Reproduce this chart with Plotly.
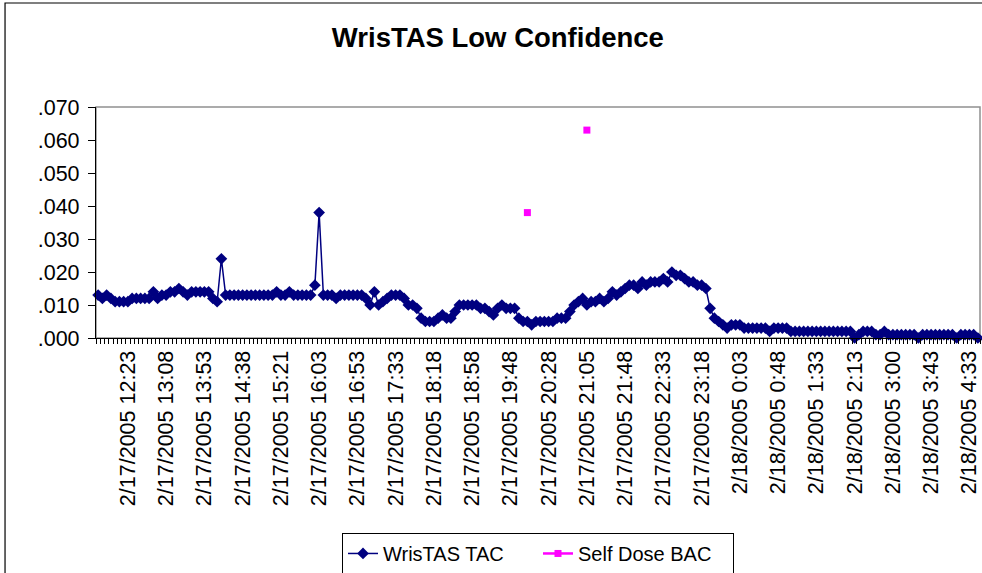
import plotly.graph_objects as go

# WrisTAS TAC, one reading per sample, in thousandths
tac_milli = [
    13, 12, 13, 12, 11, 11, 11, 11, 12, 12,
    12, 12, 12, 14, 12, 13, 13, 14, 14, 15,
    14, 13, 14, 14, 14, 14, 14, 12, 11, 24,
    13, 13, 13, 13, 13, 13, 13, 13, 13, 13,
    13, 13, 14, 13, 13, 14, 13, 13, 13, 13,
    13, 16, 38, 13, 13, 13, 12, 13, 13, 13,
    13, 13, 13, 12, 10, 14, 10, 11, 12, 13,
    13, 13, 12, 10, 10, 9, 6, 5, 5, 5,
    6, 7, 6, 6, 8, 10, 10, 10, 10, 10,
    9, 9, 8, 7, 9, 10, 9, 9, 9, 6,
    5, 5, 4, 5, 5, 5, 5, 5, 6, 6,
    6, 8, 10, 11, 12, 10, 11, 11, 12, 11,
    12, 14, 13, 14, 15, 16, 16, 15, 17, 16,
    17, 17, 17, 18, 17, 20, 19, 19, 18, 17,
    17, 16, 16, 15, 9, 6, 5, 4, 3, 4,
    4, 4, 3, 3, 3, 3, 3, 3, 2, 3,
    3, 3, 3, 2, 2, 2, 2, 2, 2, 2,
    2, 2, 2, 2, 2, 2, 2, 2, 0, 1,
    2, 2, 2, 1, 1, 2, 1, 1, 1, 1,
    1, 1, 1, 0, 1, 1, 1, 1, 1, 1,
    1, 1, 0, 1, 1, 1, 1, 0,
]

# self-dosed breath readings: sample number and BAC
self_dose_sample = [101, 115]
self_dose_bac = [0.038, 0.063]

tick_labels = [
    '2/17/2005 12:23', '2/17/2005 13:08', '2/17/2005 13:53', '2/17/2005 14:38',
    '2/17/2005 15:21', '2/17/2005 16:03', '2/17/2005 16:53', '2/17/2005 17:33',
    '2/17/2005 18:18', '2/17/2005 18:58', '2/17/2005 19:48', '2/17/2005 20:28',
    '2/17/2005 21:05', '2/17/2005 21:48', '2/17/2005 22:33', '2/17/2005 23:18',
    '2/18/2005 0:03', '2/18/2005 0:48', '2/18/2005 1:33', '2/18/2005 2:13',
    '2/18/2005 3:00', '2/18/2005 3:43', '2/18/2005 4:33',
]
first_labelled = 7
label_step = 9

y_ticks = [0.0, 0.01, 0.02, 0.03, 0.04, 0.05, 0.06, 0.07]
y_ticktext = ['.000', '.010', '.020', '.030', '.040', '.050', '.060', '.070']

n = len(tac_milli)
samples = list(range(n))
tac = [v / 1000 for v in tac_milli]
bac = [None] * n
for s, v in zip(self_dose_sample, self_dose_bac):
    bac[s] = v

FONT = 'Arial, Liberation Sans, sans-serif'
TAC_COLOR = '#000080'
BAC_COLOR = '#FF00FF'

fig = go.Figure()
fig.add_trace(go.Scatter(
    x=samples, y=tac, mode='lines+markers', name='WrisTAS TAC',
    line=dict(color=TAC_COLOR, width=1.5),
    marker=dict(symbol='diamond', size=9, color=TAC_COLOR),
    cliponaxis=False,
))
# gaps between the two readings, so only the line in the legend key shows
fig.add_trace(go.Scatter(
    x=samples, y=bac, mode='lines+markers', name='Self Dose BAC',
    connectgaps=False,
    line=dict(color=BAC_COLOR, width=2.5),
    marker=dict(symbol='square', size=7, color=BAC_COLOR),
    cliponaxis=False,
))

# plot area border (grey) and chart border (black)
fig.add_shape(type='rect', xref='paper', yref='paper', x0=0, x1=1, y0=0, y1=1,
              line=dict(color='#909090', width=1.5), layer='below')
fig.add_shape(type='rect', xref='paper', yref='paper', x0=-0.1029, x1=1.03, y0=-1.06, y1=1.4502,
              line=dict(color='black', width=1.2))

fig.update_layout(
    width=982, height=573,
    margin=dict(l=96, r=2, t=107, b=235, autoexpand=False),
    paper_bgcolor='white', plot_bgcolor='white',
    font=dict(family=FONT, color='black', size=20),
    title=dict(text='<b>WrisTAS Low Confidence</b>', font=dict(size=27.5, family=FONT),
               x=0.507, xanchor='center', y=0.934, yanchor='middle'),
    xaxis=dict(
        range=[-0.5, n - 0.5],
        tickmode='array',
        tickvals=[first_labelled + label_step * k for k in range(len(tick_labels))],
        ticktext=tick_labels,
        tickangle=-90,
        ticks='',
        ticklabelstandoff=3,
        ticklabeloverflow='allow',
        tickfont=dict(size=21.5),
        showline=True, linecolor='black', linewidth=1.2,
        showgrid=False, zeroline=False, automargin=False,
        minor=dict(tickmode='linear', tick0=-0.5, dtick=1, ticks='outside',
                   ticklen=5, tickcolor='black', tickwidth=1, showgrid=False),
    ),
    yaxis=dict(
        range=[0, 0.07],
        tickmode='array', tickvals=y_ticks, ticktext=y_ticktext,
        ticks='outside', ticklen=7, tickcolor='black',
        ticklabelstandoff=4,
        tickfont=dict(size=21.5),
        showline=True, linecolor='black', linewidth=1.2,
        showgrid=False, zeroline=False, automargin=False,
    ),
    showlegend=True,
    legend=dict(orientation='h', x=0.5, xanchor='center', y=-0.844, yanchor='top',
                bordercolor='black', borderwidth=1, bgcolor='white',
                entrywidth=150, font=dict(size=20)),
)

# the page body has a default 8px margin; drop it so the chart fills the window
fig.write_html('out.html', config={'displayModeBar': False},
               post_script="document.body.style.margin='0';")
